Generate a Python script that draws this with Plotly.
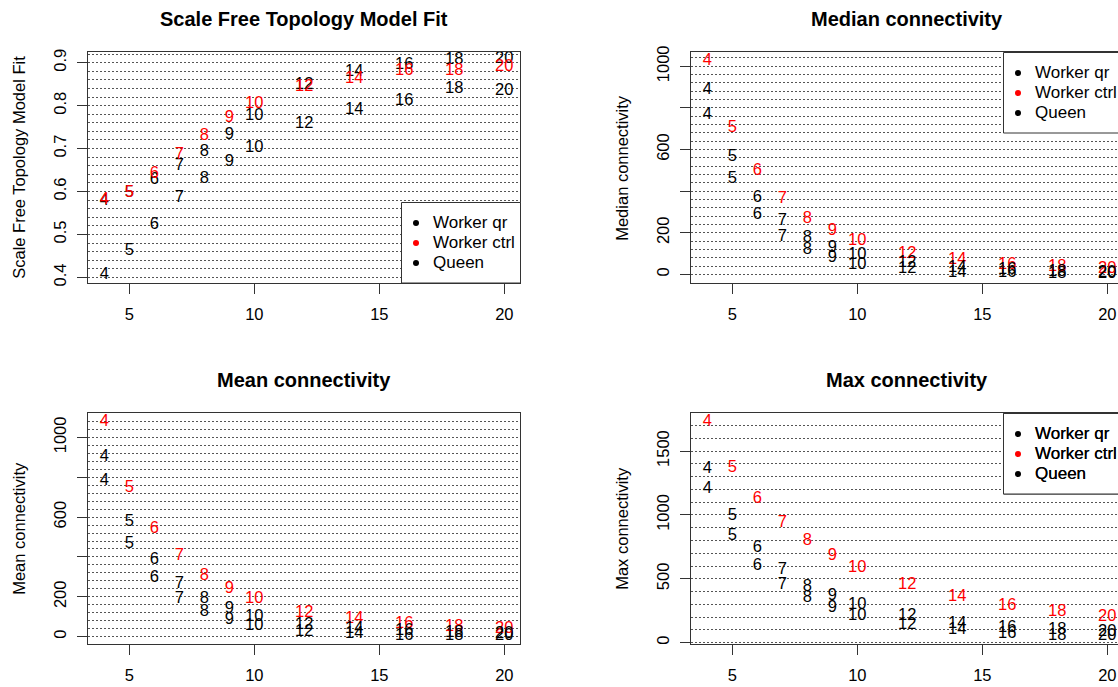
import plotly.graph_objects as go

# ---------------- data ----------------
powers = [4, 5, 6, 7, 8, 9, 10, 12, 14, 16, 18, 20]
series_names = ["Worker qr", "Worker ctrl", "Queen"]
series_colors = ["black", "#FF0000", "black"]

fit_worker_qr = [0.578, 0.597, 0.627, 0.660, 0.693, 0.733, 0.776, 0.848, 0.879, 0.895, 0.906, 0.908]
fit_worker_ctrl = [0.580, 0.597, 0.642, 0.686, 0.730, 0.772, 0.805, 0.843, 0.862, 0.881, 0.881, 0.891]
fit_queen = [0.405, 0.462, 0.522, 0.585, 0.629, 0.668, 0.702, 0.757, 0.790, 0.811, 0.840, 0.835]

median_worker_qr = [768, 460, 284, 180, 120, 77, 45, 24, 8, 5, 2, 3]
median_worker_ctrl = [1027, 703, 497, 364, 268, 208, 160, 97, 69, 45, 37, 24]
median_queen = [886, 564, 369, 256, 176, 128, 93, 53, 29, 21, 13, 8]

mean_worker_qr = [781, 468, 293, 187, 125, 84, 55, 22, 12, 5, 3, 2]
mean_worker_ctrl = [1079, 749, 540, 405, 304, 242, 187, 120, 89, 64, 47, 38]
mean_queen = [900, 574, 385, 263, 189, 137, 97, 59, 38, 28, 20, 13]

max_worker_qr = [1203, 837, 600, 451, 347, 269, 211, 138, 99, 73, 55, 52]
max_worker_ctrl = [1730, 1372, 1122, 939, 796, 678, 587, 451, 360, 290, 243, 204]
max_queen = [1364, 994, 744, 569, 438, 365, 295, 209, 151, 120, 99, 86]

panel_titles = ["Scale Free Topology Model Fit", "Median connectivity",
                "Mean connectivity", "Max connectivity"]
y_titles = ["Scale Free Topology Model Fit", "Median connectivity",
            "Mean connectivity", "Max connectivity"]

x_tickvals = [5, 10, 15, 20]
fit_tickvals = [0.4, 0.5, 0.6, 0.7, 0.8, 0.9]
fit_ticktext = ["0.4", "0.5", "0.6", "0.7", "0.8", "0.9"]
fit_grid = [round(0.40 + 0.02 * i, 2) for i in range(27)]
median_tickvals = [0, 200, 400, 600, 800, 1000]
median_ticktext = ["0", "200", "", "600", "", "1000"]
median_grid = list(range(0, 1041, 40))
mean_tickvals = [0, 200, 400, 600, 800, 1000]
mean_ticktext = ["0", "200", "", "600", "", "1000"]
mean_grid = list(range(0, 1081, 40))
max_tickvals = [0, 500, 1000, 1500]
max_ticktext = ["0", "500", "1000", "1500"]
max_grid = list(range(0, 1701, 100))

# ---------------- layout geometry (pixels) ----------------
W, H = 1118, 687
FONT = "Liberation Sans, Arial, sans-serif"
FS = 16.5
LINE = "#333333"
GRID = "#555555"

def px_x(v):
    return v / W

def px_y(v):
    return 1 - v / H

left_dom = [px_x(88.3), px_x(520.3)]
right_dom = [px_x(691.3), 1.0]
top_dom = [px_y(282.7), px_y(51.7)]
bot_dom = [px_y(644.0), px_y(412.7)]

x_left_range = [3.36, 20.64]
x_right_range = [3.36, 3.36 + (W - 691.3) / 25.0]

panels = [
    dict(data=[fit_worker_qr, fit_worker_ctrl, fit_queen], xd=left_dom, yd=top_dom,
         xr=x_left_range, yr=[0.3877, 0.9256], tv=fit_tickvals, tt=fit_ticktext, grid=fit_grid,
         right=False),
    dict(data=[median_worker_qr, median_worker_ctrl, median_queen], xd=right_dom, yd=top_dom,
         xr=x_right_range, yr=[-40, 1070], tv=median_tickvals, tt=median_ticktext, grid=median_grid,
         right=True),
    dict(data=[mean_worker_qr, mean_worker_ctrl, mean_queen], xd=left_dom, yd=bot_dom,
         xr=x_left_range, yr=[-37, 1124], tv=mean_tickvals, tt=mean_ticktext, grid=mean_grid,
         right=False),
    dict(data=[max_worker_qr, max_worker_ctrl, max_queen], xd=right_dom, yd=bot_dom,
         xr=x_right_range, yr=[-10, 1800], tv=max_tickvals, tt=max_ticktext, grid=max_grid,
         right=True),
]

fig = go.Figure()
layout = dict(
    width=W, height=H, margin=dict(l=0, r=0, t=0, b=0, autoexpand=False),
    paper_bgcolor="white", plot_bgcolor="white", showlegend=False,
    font=dict(family=FONT, size=FS, color="black"),
)
annotations = []
shapes = []

for i, p in enumerate(panels):
    n = i + 1
    xa = "x" if n == 1 else f"x{n}"
    ya = "y" if n == 1 else f"y{n}"
    xkey = "xaxis" if n == 1 else f"xaxis{n}"
    ykey = "yaxis" if n == 1 else f"yaxis{n}"
    layout[xkey] = dict(
        domain=p["xd"], range=p["xr"], anchor=ya, tickmode="array", tickvals=x_tickvals,
        ticks="outside", ticklen=10, tickcolor=LINE, tickwidth=1,
        showline=True, linecolor=LINE, linewidth=1, mirror=True,
        showgrid=False, zeroline=False, ticklabelstandoff=6,
        tickfont=dict(size=FS, color="black", family=FONT),
    )
    layout[ykey] = dict(
        domain=p["yd"], range=p["yr"], anchor=xa, tickmode="array", tickvals=p["tv"],
        ticktext=p["tt"], tickangle=-90, ticklabelstandoff=5,
        ticks="outside", ticklen=10, tickcolor=LINE, tickwidth=1,
        showline=True, linecolor=LINE, linewidth=1, mirror=(not p["right"]),
        showgrid=True, gridcolor=GRID, gridwidth=1, griddash="2px,2px",
        zeroline=False,
        minor=dict(tickmode="array", tickvals=p["grid"], showgrid=True, gridcolor=GRID,
                   gridwidth=1, griddash="2px,2px", ticks=""),
        tickfont=dict(size=FS, color="black", family=FONT),
    )
    for name, color, vals in zip(series_names, series_colors, p["data"]):
        fig.add_trace(go.Scatter(
            x=powers, y=vals, mode="text", text=[str(v) for v in powers],
            textposition="middle center", name=name,
            textfont=dict(size=FS, color=color, family=FONT),
            xaxis=xa, yaxis=ya, hoverinfo="skip",
        ))

    # panel geometry in px
    xl = p["xd"][0] * W
    xr_full = xl + (p["xr"][1] - p["xr"][0]) * 25.0 if not p["right"] else 691.3 + 17.28 * 25.0
    ytop = round((1 - p["yd"][1]) * H)
    ybot = round((1 - p["yd"][0]) * H)

    # title
    annotations.append(dict(
        text=f"<b>{panel_titles[i]}</b>", xref="paper", yref="paper",
        x=px_x((xl + xr_full) / 2), y=px_y(ytop - 33), xanchor="center", yanchor="middle",
        showarrow=False, font=dict(size=20, family=FONT, color="black"),
    ))
    # y axis title
    annotations.append(dict(
        text=y_titles[i], xref="paper", yref="paper", textangle=-90,
        x=px_x(xl - 70), y=px_y((ytop + ybot) / 2), xanchor="center", yanchor="middle",
        showarrow=False, font=dict(size=FS, family=FONT, color="black"),
    ))

    # legend box
    if i == 0:
        lx0, lx1, ly0, ly1 = 401.0, 520.0, 202.0, 282.5
    else:
        lx0 = 1003.0
        lx1 = lx0 + 119.0
        ly0 = ytop
        ly1 = ytop + 80.5
    shapes.append(dict(type="rect", xref="paper", yref="paper",
                       x0=px_x(lx0 + 0.5), x1=px_x(lx1 + 0.5), y0=px_y(ly1 + 0.5), y1=px_y(ly0 + 0.5),
                       line=dict(color=LINE, width=1), fillcolor="white", layer="above"))
    for k, (name, color) in enumerate(zip(series_names, series_colors)):
        cy = ly0 + 21 + 20 * k
        cx = lx0 + 15
        shapes.append(dict(type="circle", xref="paper", yref="paper",
                           x0=px_x(cx - 3), x1=px_x(cx + 3), y0=px_y(cy + 3), y1=px_y(cy - 3),
                           line=dict(width=0), fillcolor=color, layer="above"))
        annotations.append(dict(
            text=name, xref="paper", yref="paper", x=px_x(lx0 + 30), y=px_y(cy - 0.5),
            xanchor="left", yanchor="middle", showarrow=False,
            font=dict(size=17, family=FONT, color="black"),
        ))

layout["annotations"] = annotations
layout["shapes"] = shapes
fig.update_layout(**layout)
fig.write_html("out.html")
